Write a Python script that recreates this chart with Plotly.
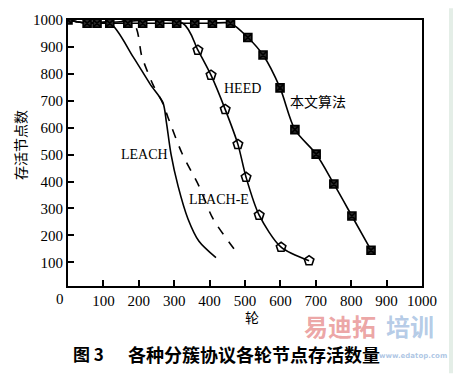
import plotly.graph_objects as go

# ---- data (rounds vs. alive nodes) ----
leach_x = [0, 54, 119, 184, 232, 268, 278, 291, 311, 339, 370, 418]
leach_y = [1000, 988, 988, 863, 762, 694, 620, 502, 383, 261, 178, 117]

leache_x = [0, 54, 184, 209, 240, 268, 282, 322, 370, 410, 480]
leache_y = [1000, 988, 988, 863, 760, 690, 640, 505, 383, 261, 131]

heed_line_x = [0, 54, 324, 367, 404, 444, 480, 503, 540, 602, 681]
heed_line_y = [1000, 988, 988, 888, 795, 668, 538, 416, 275, 156, 106]
heed_mark_x = [367, 404, 444, 480, 503, 540, 602, 681]
heed_mark_y = [888, 795, 668, 538, 416, 275, 156, 106]

ours_x = [0, 54, 82, 118, 169, 211, 259, 307, 358, 408, 459, 508, 551, 599, 641, 701, 751, 802, 856]
ours_y = [1000, 988, 988, 988, 988, 988, 988, 988, 988, 988, 988, 935, 870, 748, 593, 502, 391, 272, 145]

tick_vals = [100, 200, 300, 400, 500, 600, 700, 800, 900, 1000]
tick_text = [str(v) for v in tick_vals]

series_labels = ["LEACH", "LEACH-E", "HEED", "本文算法"]
label_x = [215, 427, 492, 706]
label_y = [499, 333, 744, 701]

SERIF = "Liberation Serif, Times New Roman, serif"
CJK = "Noto Sans CJK SC, sans-serif"

fig = go.Figure()

fig.add_trace(go.Scatter(x=leach_x, y=leach_y, mode="lines",
                         line=dict(color="black", width=1.6, shape="spline", smoothing=0.8),
                         name="LEACH"))
fig.add_trace(go.Scatter(x=leache_x, y=leache_y, mode="lines",
                         line=dict(color="black", width=1.6, dash="dash", shape="spline", smoothing=0.8),
                         name="LEACH-E"))
fig.add_trace(go.Scatter(x=heed_line_x, y=heed_line_y, mode="lines",
                         line=dict(color="black", width=1.6, shape="spline", smoothing=0.8),
                         name="HEED"))
fig.add_trace(go.Scatter(x=heed_mark_x, y=heed_mark_y, mode="markers",
                         marker=dict(symbol="pentagon-open", size=10, color="black",
                                     line=dict(color="black", width=1.6)),
                         showlegend=False))
fig.add_trace(go.Scatter(x=ours_x, y=ours_y, mode="lines+markers",
                         line=dict(color="black", width=1.6, shape="spline", smoothing=0.8),
                         marker=dict(symbol="square-x", size=8, color="#2a2a2a",
                                     line=dict(color="black", width=1.6)),
                         name="本文算法"))

annotations = []
for t, xv, yv in zip(series_labels, label_x, label_y):
    fam = CJK if t == "本文算法" else SERIF
    annotations.append(dict(x=xv, y=yv, xref="x", yref="y", text=t, showarrow=False,
                            font=dict(family=fam, size=14, color="black"),
                            xanchor="center", yanchor="middle"))

# origin label, axis titles, caption
annotations += [
    dict(x=-0.024, y=-0.047, xref="paper", yref="paper", text="0", showarrow=False,
         font=dict(family=SERIF, size=15, color="black"), xanchor="center", yanchor="middle"),
    dict(x=-0.136, y=0.53, xref="paper", yref="paper", text="存活节点数", showarrow=False,
         textangle=-90, font=dict(family=CJK, size=14, color="black"),
         xanchor="center", yanchor="middle"),
    dict(x=0.52, y=-0.117, xref="paper", yref="paper", text="轮", showarrow=False,
         font=dict(family=CJK, size=14, color="black"), xanchor="center", yanchor="middle"),
    dict(x=(88 - 68) / 354, y=(286 - 356) / 274, xref="paper", yref="paper", text="<b>图 3</b>",
         showarrow=False, font=dict(family=CJK, size=17, color="black"),
         xanchor="center", yanchor="middle"),
    dict(x=(254 - 68) / 354, y=(286 - 356) / 274, xref="paper", yref="paper",
         text="<b>各种分簇协议各轮节点存活数量</b>",
         showarrow=False, font=dict(family=CJK, size=18, color="black"),
         xanchor="center", yanchor="middle"),
    # watermark
    dict(x=(340 - 68) / 354, y=(286 - 327) / 274, xref="paper", yref="paper",
         text="<b>易迪拓</b>", showarrow=False,
         font=dict(family=CJK, size=24, color="rgba(220,90,90,0.55)"),
         xanchor="center", yanchor="middle"),
    dict(x=(410 - 68) / 354, y=(286 - 327) / 274, xref="paper", yref="paper",
         text="<b>培训</b>", showarrow=False,
         font=dict(family=CJK, size=24, color="rgba(120,160,210,0.55)"),
         xanchor="center", yanchor="middle"),
    dict(x=(413 - 68) / 354, y=(286 - 358) / 274, xref="paper", yref="paper",
         text="<b>www.edatop.com</b>", showarrow=False,
         font=dict(family="DejaVu Sans, sans-serif", size=7, color="rgba(120,160,210,0.6)"),
         xanchor="center", yanchor="middle"),
]

axis_common = dict(
    showgrid=False, zeroline=False, showline=True, linecolor="black", linewidth=1.8,
    mirror=True, ticks="inside", ticklen=6, tickwidth=1.5, tickcolor="black",
    tickfont=dict(family=SERIF, size=15, color="black"),
    tickvals=tick_vals, ticktext=tick_text,
)

fig.update_layout(
    width=453, height=376,
    margin=dict(l=68, r=31, t=12, b=90),
    paper_bgcolor="white", plot_bgcolor="white",
    showlegend=False,
    xaxis=dict(range=[0, 1000], **axis_common),
    yaxis=dict(range=[12, 1000], **axis_common),
    annotations=annotations,
    shapes=[dict(type="rect", xref="paper", yref="paper",
                 x0=(449 - 68) / 354, x1=(453 - 68) / 354, y0=-90 / 274, y1=1 + 12 / 274,
                 fillcolor="#e4eee7", line=dict(width=0), layer="below")],
)

fig.write_html("out.html")
